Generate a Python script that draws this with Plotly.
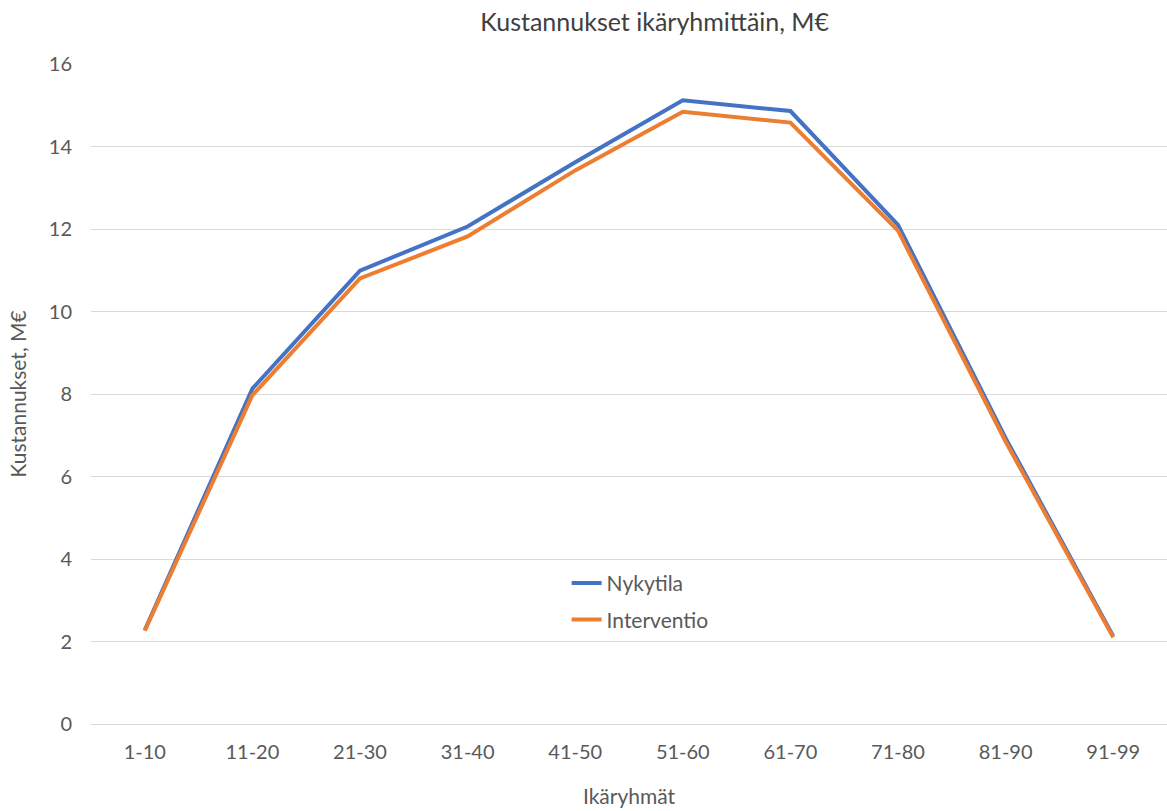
import plotly.graph_objects as go

# Age groups and costs (million euros)
ika_ryhmat = ["1-10", "11-20", "21-30", "31-40", "41-50",
              "51-60", "61-70", "71-80", "81-90", "91-99"]
nykytila = [2.28, 8.13, 10.99, 12.06, 13.62, 15.12, 14.86, 12.10, 6.93, 2.13]
interventio = [2.26, 7.97, 10.80, 11.82, 13.42, 14.84, 14.58, 11.96, 6.85, 2.10]
y_ticks = [0, 2, 4, 6, 8, 10, 12, 14, 16]

FONT = "Lato"
TXT = "#595959"
GRID = "#D9D9D9"

fig = go.Figure()
fig.add_trace(go.Scatter(
    x=ika_ryhmat, y=nykytila, name="Nykytila", mode="lines",
    line=dict(color="#4472C4", width=4), legendgroup="a"))
fig.add_trace(go.Scatter(
    x=ika_ryhmat, y=interventio, name="Interventio", mode="lines",
    line=dict(color="#ED7D31", width=4), legendgroup="b"))

fig.update_layout(
    width=1167, height=811,
    margin=dict(l=91, r=0, t=64, b=87),
    paper_bgcolor="white", plot_bgcolor="white",
    font=dict(family=FONT, size=20, color=TXT),
    title=dict(text="Kustannukset ikäryhmittäin, M€",
               x=0.561, xanchor="center", y=0.973, yanchor="middle",
               font=dict(family=FONT, size=25, color="#404040")),
    legend=dict(x=0.442, y=0.244, xanchor="left", yanchor="top",
                bgcolor="rgba(0,0,0,0)", tracegroupgap=6,
                font=dict(family=FONT, size=21, color=TXT),
                itemwidth=30),
    showlegend=True,
)
fig.update_xaxes(
    type="category", range=[-0.5, 9.5],
    showgrid=False, showline=False, ticks="",
    ticklabelstandoff=14,
    tickfont=dict(family=FONT, size=20, color=TXT),
    title=dict(text="Ikäryhmät", font=dict(family=FONT, size=21, color=TXT),
               standoff=27),
)
fig.update_yaxes(
    range=[0, 16], tickvals=y_ticks,
    showgrid=True, gridcolor=GRID, gridwidth=1,
    zeroline=True, zerolinecolor=GRID, zerolinewidth=1,
    showline=False, ticks="", ticklabelstandoff=18,
    tickfont=dict(family=FONT, size=20, color=TXT),
    title=dict(text="Kustannukset, M€", font=dict(family=FONT, size=21, color=TXT),
               standoff=16),
)

fig.write_html("out.html")
